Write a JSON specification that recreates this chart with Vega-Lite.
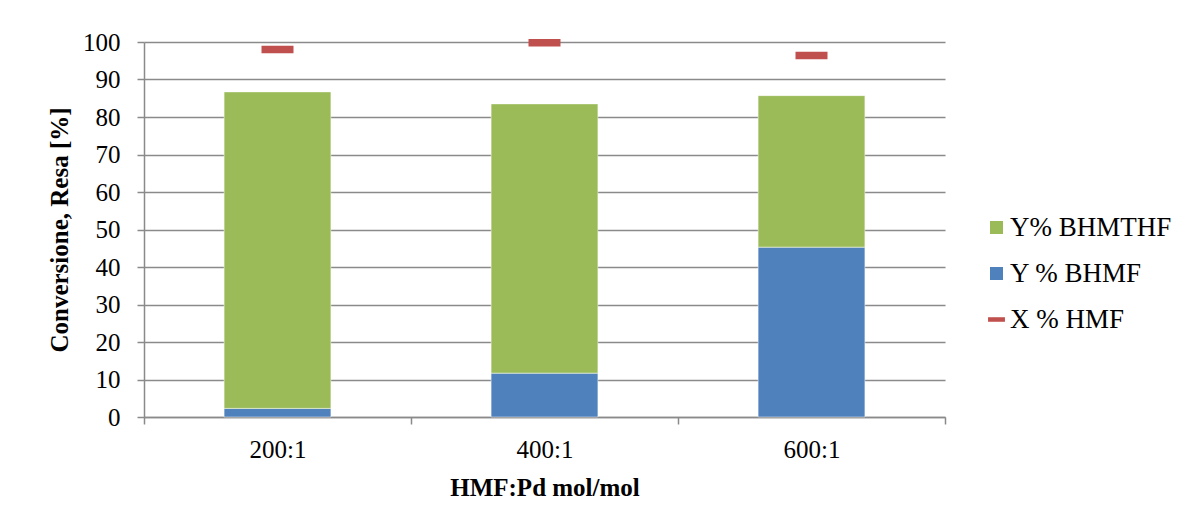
{
  "$schema": "https://vega.github.io/schema/vega-lite/v6.json",
  "width": 801,
  "height": 375,
  "autosize": {"type": "none"},
  "padding": {"left": 144, "top": 42, "right": 236, "bottom": 112},
  "background": "#ffffff",
  "datasets": {
    "yields": [
      {"ratio": "200:1", "series": "Y % BHMF", "k": 1, "value": 2.3},
      {"ratio": "200:1", "series": "Y% BHMTHF", "k": 2, "value": 84.4},
      {"ratio": "400:1", "series": "Y % BHMF", "k": 1, "value": 11.7},
      {"ratio": "400:1", "series": "Y% BHMTHF", "k": 2, "value": 71.8},
      {"ratio": "600:1", "series": "Y % BHMF", "k": 1, "value": 45.3},
      {"ratio": "600:1", "series": "Y% BHMTHF", "k": 2, "value": 40.4}
    ],
    "conversion": [
      {"ratio": "200:1", "series": "X % HMF", "value": 98.0},
      {"ratio": "400:1", "series": "X % HMF", "value": 99.8},
      {"ratio": "600:1", "series": "X % HMF", "value": 96.4}
    ]
  },
  "encoding": {
    "x": {
      "field": "ratio",
      "type": "nominal",
      "sort": ["200:1", "400:1", "600:1"],
      "scale": {"paddingInner": 0, "paddingOuter": 0},
      "axis": {
        "title": "HMF:Pd mol/mol",
        "labelAngle": 0,
        "labelFont": "Liberation Serif",
        "titleFont": "Liberation Serif",
        "tickBand": "extent",
        "tickSize": 7,
        "labelPadding": 13,
        "titlePadding": 13,
        "grid": false
      }
    },
    "y": {
      "type": "quantitative",
      "scale": {"domain": [0, 100], "nice": false},
      "axis": {
        "title": "Conversione, Resa [%]",
        "labelFont": "Liberation Serif",
        "titleFont": "Liberation Serif",
        "values": [0, 10, 20, 30, 40, 50, 60, 70, 80, 90, 100],
        "tickSize": 7,
        "labelPadding": 17,
        "titlePadding": 10,
        "grid": true
      }
    },
    "color": {
      "field": "series",
      "type": "nominal",
      "scale": {
        "domain": ["Y% BHMTHF", "Y % BHMF", "X % HMF"],
        "range": ["#9bbb59", "#4f81bd", "#c0504d"]
      },
      "legend": {
        "title": null,
        "orient": "none",
        "legendX": 839,
        "legendY": 172,
        "symbolType": "square",
        "symbolSize": 169,
        "symbolOpacity": 1,
        "symbolStrokeWidth": 0,
        "labelFont": "Liberation Serif",
        "labelFontSize": 27,
        "labelLimit": 400,
        "labelOffset": 0,
        "rowPadding": 18,
        "padding": 0,
        "encode": {
          "symbols": {
            "update": {
              "shape": {"signal": "datum.label === 'X % HMF' ? 'M-1.3,-0.35H1.3V0.35H-1.3Z' : 'square'"},
              "fill": {"signal": "datum.label === 'X % HMF' ? '#c0504d' : (datum.label === 'Y % BHMF' ? '#4f81bd' : '#9bbb59')"},
              "strokeWidth": {"value": 0}
            }
          },
          "labels": {
            "update": {
              "font": {"value": "Liberation Serif"}
            }
          }
        }
      }
    }
  },
  "layer": [
    {
      "data": {"name": "yields"},
      "mark": {"type": "bar", "width": {"band": 0.4}, "stroke": "#ffffff", "strokeWidth": 0.8, "strokeOpacity": 0.6},
      "encoding": {
        "y": {"field": "value", "type": "quantitative", "stack": "zero"},
        "order": {"field": "k", "type": "quantitative"}
      }
    },
    {
      "data": {"name": "conversion"},
      "mark": {"type": "tick", "size": 32, "thickness": 7.5, "opacity": 1},
      "encoding": {
        "y": {"field": "value", "type": "quantitative"}
      }
    }
  ],
  "config": {
    "font": "Liberation Serif",
    "view": {"stroke": null},
    "axis": {
      "domainColor": "#8a8a8a",
      "domainWidth": 1.5,
      "tickColor": "#8a8a8a",
      "tickWidth": 1.5,
      "gridColor": "#8a8a8a",
      "gridWidth": 1.5,
      "labelFont": "Liberation Serif",
      "labelFontSize": 25,
      "labelColor": "#000000",
      "titleFont": "Liberation Serif",
      "titleFontSize": 25,
      "titleFontWeight": "bold",
      "titleColor": "#000000"
    },
    "legend": {"labelFont": "Liberation Serif", "labelColor": "#000000"}
  }
}
